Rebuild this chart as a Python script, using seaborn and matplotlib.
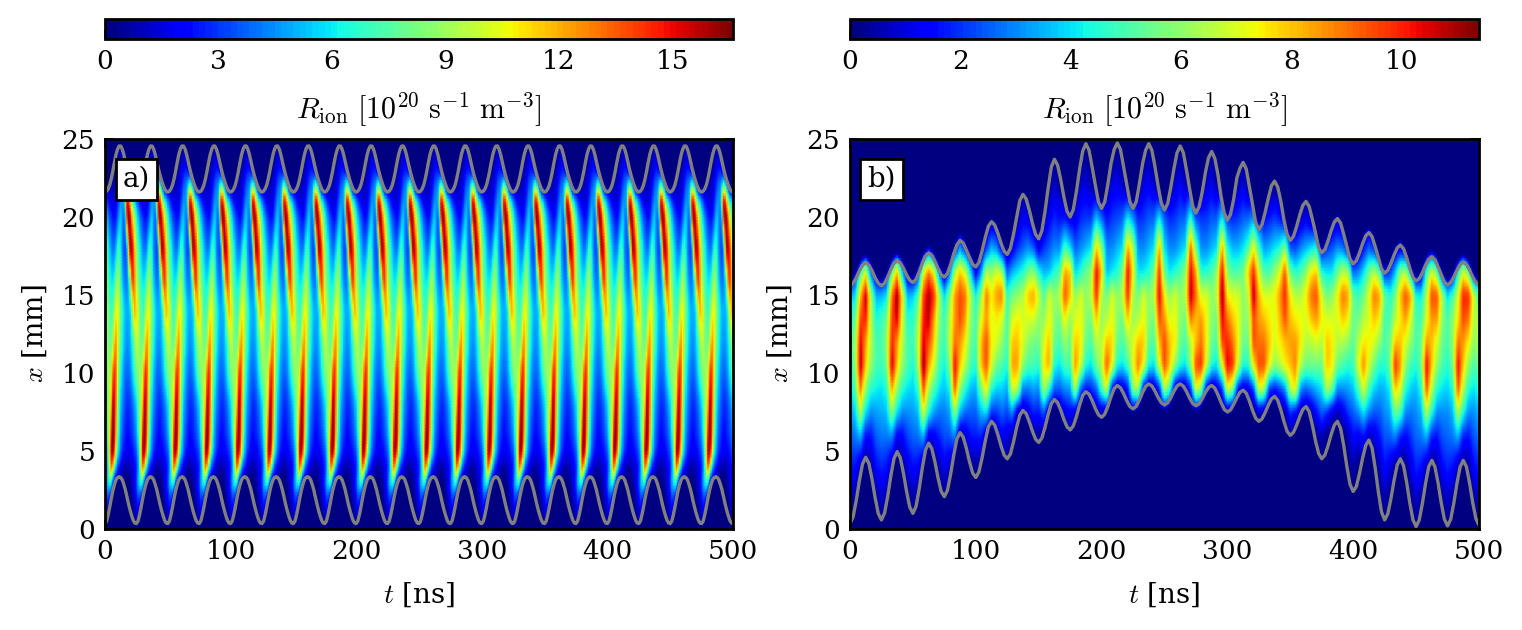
import numpy as np
import matplotlib
matplotlib.use("Agg")
import matplotlib.pyplot as plt
import seaborn as sns
from matplotlib.colors import BoundaryNorm
from matplotlib.cm import ScalarMappable

# ---------- panel a: the picture repeats every 25 ns for 20 periods ----------
n_periods_a = 20
a_x = [0, 1, 2, 3, 4, 5, 6, 8, 10, 12, 14, 16, 18, 20, 21, 22, 23, 24, 25]
# one period, samples every 1.25 ns
a_00 = [0]*20
a_01 = [1,1.5,.8,.2,0,0,0,0,0,0,0,0,0,0,0,0,0,0,.2,.6]
a_02 = [2,3,3,2,.8,.2,0,0,0,0,0,0,0,0,0,0,0,.3,.8,1.4]
a_03 = [3,5,6,7,6,3,1,.2,0,0,0,0,0,0,0,0,.3,.8,1.5,2.2]
a_04 = [2.5,4,6,10,13.5,12,8,5.5,3.5,2.5,1.8,1.2,.8,.6,.6,.7,.9,1.1,1.5,2]
a_05 = [3.5,5,7,11,15.5,16.5,14.5,10.5,7,5.5,4,3,2.5,2,1.8,1.8,1.9,2.1,2.5,3]
a_06 = [4.5,6,8,10.5,14.5,16.5,15.5,12,8.5,6,4.6,3.5,3,2.5,2.2,2.2,2.5,2.8,3.2,3.8]
a_08 = [5.5,7,8.5,9.5,11.5,15.5,15.5,13,9.5,7,5.5,4.5,3.8,3.2,2.8,2.8,3,3.5,4,4.8]
a_10 = [8,8.5,9,9,10,13,14.5,13.5,10.5,8,6.5,5.5,4.5,4,3.8,3.8,4.2,5,6,7]
a_12 = [9.5,9.5,8.5,8,8,9,11.5,12.5,11,9,7.5,6.5,5.5,4.8,4.5,4.6,5,6,7,8.5]
a_14 = [11.5,10,8.5,7.5,7,7.5,9,10.5,10.5,9.5,8,7,6,5.2,5,5,5.5,7.5,10,12]
a_16 = [9.5,8.5,7.5,6.5,6,5.8,6.5,8,9,8.5,7,5.5,4.5,4,4,5.5,8.5,13,14.5,12.5]
a_18 = [9,7.5,6.5,5.5,4.5,4,4,5,6.5,7,6,4.5,3.5,3,4.5,11,16,16,14.5,11.5]
a_20 = [7,5.5,4.5,3.5,3,2.5,2.2,2.5,3.5,4.8,5.5,4.5,3.5,5.5,14,16.5,16,13,10.5,8.5]
a_21 = [4.5,3.5,2.5,2,1.5,1.3,1.3,1.6,2.5,3.5,4.5,4.5,5,9.5,15.5,15.5,12,9,7,6]
a_22 = [0,0,.2,.8,.9,.9,1,1.2,1.8,2.5,3.5,4,4.5,6,8,7,5,2.5,.5,0]
a_23 = [0,0,0,0,0,.1,.4,.8,1,1.5,2,2.5,2.5,2,1,.2,0,0,0,0]
a_24 = [0,0,0,0,0,0,0,0,.3,.8,1,1,.6,0,0,0,0,0,0,0]
a_25 = [0]*20
a_rows = [a_00,a_01,a_02,a_03,a_04,a_05,a_06,a_08,a_10,a_12,a_14,a_16,a_18,
          a_20,a_21,a_22,a_23,a_24,a_25]
a_lower = [.35,.5,.9,1.4,1.95,2.45,2.85,3.15,3.3,3.35,3.3,3.15,2.85,2.5,2.05,1.6,1.2,.85,.55,.38]
a_upper = [21.6,21.65,21.8,22.05,22.45,22.95,23.5,24,24.35,24.55,24.55,24.35,24,23.55,23.1,22.7,22.35,22.05,21.8,21.65]

# ---------- panel b: one group of six vertical profiles per 25 ns ----------
b_x = [0, 2, 4, 6, 7.5, 9, 10.5, 12, 13.5, 15, 16.5, 18, 20, 22, 24, 25]
b_p00 = [[0,.6,1.5,2.5,3.2,4,4.6,5,4.8,3.5],[0,.3,1.6,2.8,3.8,5,5.8,6,5.2,4,1],[0,0,.5,3.5,6.5,9,11,10.5,9.5,8,5,.2],
         [0,0,0,1.5,4,6,8,8.5,10,10.8,7,.8],[0,0,.4,1.6,3,4.5,6,6.5,6.5,6.5,2.5,.1],[0,.2,1.5,2.5,3.2,4.2,5,5,4.4,3.5,.3]]
b_p01 = [[0,.8,1.8,2.8,3.4,4,4.8,5,4.8,3.5],[0,.3,1.6,2.8,3.6,4.5,5.6,6,5.5,4,1],[0,0,.4,3,6,8.5,10.8,10,9.5,9,5.5,.2],
         [0,0,0,1.2,4,6,8,8.5,10.5,11.2,8,.8],[0,0,.2,1.4,3,4.5,6,6.5,7,7.5,3.5,.1],[0,0,1,2.2,3,4,5,5,4.5,3.5,.3]]
b_p02 = [[0,.4,1.5,2.6,3.2,3.8,4.4,4.8,4.6,3.8],[0,.1,1.4,2.7,3.5,4.6,6,6.5,6,5,1.5],[0,0,.2,3.5,7,9.5,11.4,10.5,10,9.5,7,.5],
         [0,0,0,1,4.5,6.5,8.5,9.5,10.8,11,9,1.5],[0,0,.1,1.2,3.2,5,7,8,8.5,10,7.5,.3],[0,0,.4,1.8,2.8,4,5,5.5,6,6.5,3]]
b_p03 = [[0,0,1.2,2.3,2.8,3.6,4.2,4.8,4.8,4,.2],[0,0,.6,2.4,3.2,4.2,5.6,6.5,6.5,5.8,2.5],[0,0,0,3,6,9.5,10.5,9,8.5,8.5,6.5,1.2],
         [0,0,0,.2,3.5,6,8,8.5,9.5,9.5,8,3],[0,0,0,.8,2.6,4.5,6.5,7.5,8.5,9,7,1.6],[0,0,.1,1.6,2.5,3.5,5,5.5,6,6.5,4,.3]]
b_p04 = [[0,0,.3,1.7,2.5,3.4,4.5,5,5,4.4,1],[0,0,0,1.8,3.5,5.5,8,8,7,6,3,.2],[0,0,0,.6,4,7.5,9.5,9.5,8.5,9,6.5,2],
         [0,0,0,0,2,4.5,7,7.5,7,7.5,6,3.5,.2],[0,0,0,.6,2,3.8,5.5,7,7.5,8.5,7,3,.1],[0,0,0,1.2,2.6,3.8,5,6,7,9,6.5,1]]
b_p05 = [[0,0,0,1,2.2,3.4,4.5,5,5,4.8,2.5],[0,0,0,.3,3,7,8.5,8,7,5.5,3.5,1],[0,0,0,0,.6,6.5,8.5,8,7.5,6,4,2,.2],
         [0,0,0,0,.5,2.8,6,7,7,6.5,4.5,2.5,1.2],[0,0,0,0,1,2.8,5,6,7,8,5.5,3,1],[0,0,0,.2,1.8,3.2,5,5.5,7,8.5,6,2.5]]
b_p06 = [[0,0,0,.3,1.6,3,4.6,5.5,6,7,4.5,1],[0,0,0,0,2.4,6.5,7.5,7,6,5,3.5,2,.3],[0,0,0,0,.5,4.5,8.5,8,7.3,7,3.5,2.5,1.2],
         [0,0,0,0,0,2.5,4.5,5.5,6,6,4.5,3,1.8,.8],[0,0,0,0,.3,2.5,4,5,5.5,6.5,5,3,1.5,.2],[0,0,0,0,1,3,5,6,7.5,9.5,8.5,5,1.5]]
b_p07 = [[0,0,0,0,1.4,3.2,5,5.5,6,8,8,4,1],[0,0,0,0,.5,6.5,8.8,8,7,6,3.8,2.5,1,.1],[0,0,0,0,0,2.5,7,7.5,7.3,7,4.5,3,1.8,.8],
         [0,0,0,0,0,1.5,4.5,5.5,6,6,5.5,3.5,2,1,.2],[0,0,0,0,0,1.8,4,5,5.5,6.5,6,4,2,.5],[0,0,0,0,.2,2.5,5.5,6.5,8,10,10.5,8,3.5]]
b_p08 = [[0,0,0,0,.4,5,6.5,6.5,6,6.5,8,6,2.5],[0,0,0,0,0,7,9.5,8,6.5,5.5,3.5,3,1.5,.2],[0,0,0,0,0,1.2,7.5,7.8,7.3,7,4,3,2,1,.1],
         [0,0,0,0,0,.4,4.5,5.5,6,6,4.5,3.5,2.2,1.2,.3],[0,0,0,0,0,.8,4,5,5.5,6.5,5.5,4,2.5,.8],[0,0,0,0,0,1.5,5,6,8,10,10.5,8.5,4]]
b_p09 = [[0,0,0,0,0,6,7,7,6,6.5,7.5,6.5,3],[0,0,0,0,0,6.5,9,8,6.5,5.5,4,3,1.8,.1],[0,0,0,0,0,1,7.5,8,7.3,7,4,3,2,1,.1],
         [0,0,0,0,0,.2,4.5,5.5,6,6,4.5,3.5,2.4,1.3,.3],[0,0,0,0,0,.6,4,5,5.5,6.5,5.5,4,2.5,.8],[0,0,0,0,0,1.5,7,8,9.5,10.5,10,8.5,4]]
b_p10 = [[0,0,0,0,0,6.5,9.5,9.5,8.5,7.5,5.5,4,2.5],[0,0,0,0,0,5,8,8,7,6,4,3,1.8,.1],[0,0,0,0,0,.6,6,7.5,7.3,7,4.5,3,2,.8],
         [0,0,0,0,0,.2,4.5,5.5,6,6,5,3.5,2.4,1.3,.3],[0,0,0,0,0,.6,4,5,5.5,6.5,6,4,2.5,.6],[0,0,0,0,0,1.8,6,6.5,9,11,10.5,9.5,4.5,1]]
b_p11 = [[0,0,0,0,0,7,9.5,8,8,9,8.5,5.5,2.2],[0,0,0,0,0,6,10,9,8.5,7,4.5,3,2,.1],[0,0,0,0,0,.8,7,7.5,7.3,7,4.5,3,2,.8],
         [0,0,0,0,0,.3,4.5,5.5,6,6,5,3.5,2.4,1.2,.2],[0,0,0,0,0,.8,4,5,5.5,6.5,6,4,2.4,.4],[0,0,0,0,0,1.8,7,9.5,10.5,11.3,10.5,8.5,4,.8]]
b_p12 = [[0,0,0,0,0,7,10.5,10,9,7.5,6,4.5,2],[0,0,0,0,0,6,10,9,8,7,5,3.5,1.8],[0,0,0,0,0,1.5,7,7.5,7.3,7,5,3.5,2,.5],
         [0,0,0,0,0,.8,4.5,5.5,6,6,5.5,4,2.4,1],[0,0,0,0,0,1,4.5,5.5,6,6.5,8,5,2.5,.2],[0,0,0,0,0,2,7.5,9.5,9.5,11,10,7.5,3]]
b_p13 = [[0,0,0,0,.4,7,9.5,9,8.5,8.2,7,5,1.5],[0,0,0,0,.2,6.5,9.5,9,8,7,5,3.2,1.3],[0,0,0,0,0,2,7.5,8,7.5,7,5,3.5,1.6],
         [0,0,0,0,0,1.5,6,7,7,7.3,6,4,2,.2],[0,0,0,0,0,2,6.5,7.5,8,8.5,7,4.5,1.6],[0,0,0,0,.2,3,7.5,8,9.5,10,9.5,6,.6]]
b_p14 = [[0,0,0,.3,1.8,6.5,8,8.5,8,7.5,5.5,2.5],[0,0,0,0,1.2,7.5,8.8,8.5,7.5,6.5,4.5,2.2,.3],[0,0,0,0,.5,3,6.5,7.5,7.3,6.5,5,3,.6],
         [0,0,0,0,.2,2.5,5.5,6.5,7,7.5,6,3.5,1],[0,0,0,0,.5,3,5.5,6.5,8,9,7.5,4,.3],[0,0,0,.1,1.5,3.5,5.5,7,8.5,9.5,8,4.5]]
b_p15 = [[0,0,0,.6,2.5,4,5.5,6.5,7.5,7,4.5,1.2],[0,0,0,0,1.8,6.5,8,8,7,5.5,4,2,.1],[0,0,0,0,.8,5.5,7.5,7.5,7,6,4,2.4,.2],
         [0,0,0,0,.5,3,5.5,6.5,7,7.3,5.5,3,.5],[0,0,0,0,1,3,5,6.5,8,9,6.5,2.8,.1],[0,0,0,.4,2,3.2,4.5,6,7.5,8.5,6.5,1.5]]
b_p16 = [[0,0,.4,1.5,2.5,3.6,4.8,5.2,5.5,5.5,2.5],[0,0,0,1.2,3,5,7,6.5,5.5,4.8,3,.3],[0,0,0,1.6,4,7,8.8,7.5,6.5,5.5,4,1.5],
         [0,0,0,.6,3,5,7,7.5,7,7,5.5,2.5],[0,0,0,.9,2.4,3.8,5.5,7,8,9,6.5,1.8],[0,0,.5,1.6,2.5,3.4,4.5,6,7.5,8.5,5.5,.3]]
b_p17 = [[0,.5,1.5,2.4,3,3.5,4.5,5,5,5.5,1.5],[0,0,1,2.5,3.3,4.2,5.5,5.5,5,4.5,2],[0,0,.1,3,5.5,8,10,8,6.5,5.5,3.5,.5],
         [0,0,0,1.8,5,7,8.5,8,7.5,8,6,.9],[0,0,.1,1.4,3,4.5,6,7,8.5,9.5,6.5,.4],[0,.1,1,2,2.8,3.8,4.8,6,7,8.5,3.5]]
b_p18 = [[0,.8,1.8,2.6,3,3.5,4.5,5,5,4.5],[0,.2,1.6,2.8,3.5,4.5,5.5,5.5,5,4.2,.6],[0,0,.5,3.5,6.5,9.5,10.5,8.5,7,6.5,5,.1],
         [0,0,0,1.8,4.5,6.5,8,8,8.5,9.5,7,.6],[0,0,.3,1.6,3,4.5,6,7,8.5,9.5,5.5,.2],[0,.2,1.4,2.4,3,4,5,5.5,6,6.5,1]]
b_p19 = [[0,.8,1.8,2.6,3,3.8,4.5,5,5,4],[0,.2,1.6,2.8,3.5,4.5,5.5,6,6,5,.5],[0,0,.5,3.5,6.5,9.5,10.5,9,7.5,7,4.5,.1],
         [0,0,0,1.8,4.5,6.5,8,8.5,9.5,10,7,.6],[0,0,.3,1.6,3,4.5,6,7.5,9,10,5.5,.2],[0,.2,1.4,2.4,3,4,5,6,6.5,7,1]]
b_end = [[0,.8,1.8,2.8,3.5,4.5,5.5,6.5,6.5,5]]
b_groups = [b_p00,b_p01,b_p02,b_p03,b_p04,b_p05,b_p06,b_p07,b_p08,b_p09,b_p10,
            b_p11,b_p12,b_p13,b_p14,b_p15,b_p16,b_p17,b_p18,b_p19,b_end]

b_lower = [.36,.78,1.84,3.12,4.18,4.6,4.2,3.2,1.99,.98,.58,1.02,2.11,3.43,4.52,4.96,4.56,3.57,2.39,1.4,1.0,
 1.45,2.58,3.93,5.05,5.5,5.16,4.3,3.27,2.41,2.07,2.48,3.51,4.74,5.77,6.18,5.89,5.17,4.31,3.59,3.3,
 3.66,4.56,5.64,6.54,6.9,6.66,6.06,5.34,4.74,4.5,4.81,5.59,6.52,7.29,7.6,7.4,6.88,6.27,5.76,5.55,
 5.83,6.51,7.34,8.03,8.3,8.1,7.62,7.03,6.55,6.35,6.6,7.21,7.94,8.56,8.8,8.64,8.23,7.73,7.32,7.16,
 7.36,7.87,8.49,9.0,9.2,9.05,8.68,8.22,7.85,7.7,7.86,8.26,8.74,9.14,9.3,9.17,8.83,8.42,8.09,7.95,
 8.09,8.42,8.83,9.17,9.3,9.16,8.81,8.39,8.04,7.9,8.03,8.36,8.75,9.07,9.2,9.03,8.6,8.1,7.67,7.5,
 7.64,7.99,8.41,8.76,8.9,8.7,8.2,7.6,7.1,6.9,7.06,7.46,7.94,8.34,8.5,8.25,7.63,6.88,6.25,6.0,
 6.19,6.65,7.2,7.67,7.85,7.52,6.68,5.67,4.84,4.5,4.74,5.34,6.06,6.66,6.9,6.45,5.33,3.98,2.85,2.4,
 2.73,3.56,4.55,5.37,5.7,5.19,3.91,2.37,1.09,.58,.97,1.95,3.13,4.11,4.5,4.07,2.98,1.67,.59,.15,
 .58,1.64,2.91,3.98,4.4,3.98,2.93,1.67,.62,.2,.62,1.67,2.93,3.98,4.4,3.99,2.95,1.7,.67,.25]
b_upper = [15.6,15.75,16.11,16.56,16.92,17.07,16.92,16.56,16.11,15.75,15.6,15.76,16.16,16.64,17.04,17.2,17.06,16.71,16.29,15.94,15.8,
 16.0,16.47,17.04,17.51,17.7,17.55,17.16,16.69,16.3,16.15,16.39,16.96,17.65,18.22,18.5,18.33,17.88,17.41,16.97,16.8,
 17.09,17.84,18.68,19.41,19.7,19.49,18.97,18.33,17.81,17.6,17.99,18.9,20.0,21.06,21.45,21.16,20.45,19.6,18.89,18.6,
 19.11,20.35,21.85,23.19,23.7,23.33,22.4,21.3,20.37,20,20.47,21.65,23.06,24.23,24.7,24.28,23.2,22.05,20.97,20.55,
 20.97,22.11,23.44,24.33,24.75,24.33,23.2,22.1,20.97,20.55,20.97,22.1,23.39,24.28,24.7,24.27,23.2,21.95,20.88,20.45,
 20.86,21.9,23.1,24.13,24.55,24.12,23.0,21.8,20.68,20.25,20.65,21.6,22.85,23.8,24.2,23.76,22.7,21.3,20.24,19.8,
 20.17,21.15,22.5,23.13,23.5,23.07,21.95,20.8,19.63,19.2,19.51,20.3,21.2,22.0,22.3,21.92,21.0,19.8,18.88,18.5,
 18.75,19.38,20.13,20.75,21,20.67,19.88,19.0,18.03,17.7,17.92,18.47,19.13,19.68,19.9,19.61,18.88,18.1,17.29,17,
 17.2,17.7,18.3,18.8,19,18.74,18.1,17.4,16.66,16.4,16.58,17.03,17.57,18.02,18.2,17.97,17.4,16.7,16.13,15.9,
 16.05,16.44,16.91,17.3,17.45,17.27,16.79,16.3,15.83,15.65,15.8,16.16,16.59,16.95,17.1,16.95,16.6,16.15,15.8,15.65]

vmax_a, vmax_b = 16.6, 11.4
t_max = 500
xticks = [0, 100, 200, 300, 400, 500]
yticks = [0, 5, 10, 15, 20, 25]
cb_ticks_a = [0, 3, 6, 9, 12, 15]
cb_ticks_b = [0, 2, 4, 6, 8, 10]
cb_label = r'$R_{\rm ion}\ [10^{20}\ {\rm s}^{-1}\ {\rm m}^{-3}]$'
panel_names = ['a)', 'b)']

# ---------- assemble ----------
a_field = np.hstack([np.tile(np.array(a_rows, float), (1, n_periods_a)), np.array(a_rows, float)[:, :1]])
a_t = np.linspace(0, t_max, a_field.shape[1])
a_low = np.r_[np.tile(a_lower, n_periods_a), a_lower[0]]
a_up = np.r_[np.tile(a_upper, n_periods_a), a_upper[0]]

b_cols = [c + [0]*(len(b_x)-len(c)) for g in b_groups for c in g]
b_field = np.array(b_cols, float).T
b_t = np.linspace(0, t_max, b_field.shape[1])
b_line_t = np.linspace(0, t_max, len(b_lower))


def display_grid(t, x, field, lt, low, up, margin=0.6):
    """Put the read samples on a finer display mesh, shaded to the two plasma edges."""
    ft = np.linspace(0, t_max, 401)
    fx = np.linspace(0, 25, 126)
    by_t = np.array([np.interp(ft, t, row) for row in field])
    by_x = np.array([np.interp(fx, x, by_t[:, j]) for j in range(len(ft))]).T
    kernel = np.hanning(9)
    kernel /= kernel.sum()
    soft = np.array([np.convolve(by_x[:, j], kernel, mode='same') for j in range(len(ft))]).T
    T, X = np.meshgrid(ft, fx)
    lo = np.interp(ft, lt, low)
    hi = np.interp(ft, lt, up)
    env = np.clip((X - lo + margin) / margin, 0, 1) * np.clip((hi + margin - X) / margin, 0, 1)
    return ft, fx, soft * env


sns.set_style('ticks')
plt.rcParams.update({
    'font.family': ['DejaVu Serif'], 'mathtext.fontset': 'cm', 'font.size': 9.5,
    'axes.linewidth': 1.0, 'axes.edgecolor': 'black', 'text.color': 'black',
    'axes.labelcolor': 'black', 'xtick.color': 'black', 'ytick.color': 'black',
    'xtick.direction': 'in', 'ytick.direction': 'in', 'xtick.top': True, 'ytick.right': True,
    'xtick.major.size': 3.2, 'ytick.major.size': 3.2, 'xtick.major.width': .6, 'ytick.major.width': .6,
    'xtick.labelsize': 9.5, 'ytick.labelsize': 9.5, 'axes.labelsize': 10,
})

W, H = 1522, 630
fig = plt.figure(figsize=(W/200, H/200), dpi=200)


def box(x0, y0, x1, y1):
    return [x0/W, 1-y1/H, (x1-x0)/W, (y1-y0)/H]


panels = [
    (box(105, 139, 733, 529), box(105, 19, 733, 39), a_t, np.array(a_x, float), a_field, vmax_a,
     a_t, a_low, a_up, cb_ticks_a, panel_names[0]),
    (box(850, 139, 1479, 529), box(850, 19, 1479, 39), b_t, np.array(b_x, float), b_field, vmax_b,
     b_line_t, np.array(b_lower), np.array(b_upper), cb_ticks_b, panel_names[1]),
]
for rect, crect, t, x, field, vmax, lt, low, up, cticks, name in panels:
    ax = fig.add_axes(rect)
    ft, fx, shown = display_grid(t, x, field, lt, low, up)
    ax.pcolormesh(ft, fx, shown, cmap='jet', vmin=0, vmax=vmax, shading='gouraud', rasterized=True)
    sns.lineplot(x=lt, y=low, ax=ax, color='gray', lw=1.2, estimator=None, errorbar=None)
    sns.lineplot(x=lt, y=up, ax=ax, color='gray', lw=1.2, estimator=None, errorbar=None)
    ax.set_xlim(0, t_max); ax.set_ylim(0, 25)
    ax.set_xticks(xticks); ax.set_yticks(yticks)
    ax.set_xlabel(r'$t$ [ns]', labelpad=6)
    ax.set_ylabel(r'$x$ [mm]', labelpad=4.5)
    ax.text(.05, .897, name, transform=ax.transAxes, ha='center', va='center', fontsize=10,
            bbox=dict(boxstyle='square,pad=0.25', fc='white', ec='black', lw=1.0), zorder=5)

    cax = fig.add_axes(crect)
    norm = BoundaryNorm(np.linspace(0, vmax, 101), 256)
    cb = fig.colorbar(ScalarMappable(norm=norm, cmap='jet'), cax=cax, orientation='horizontal',
                      spacing='proportional', ticks=cticks)
    cb.ax.tick_params(axis='x', direction='in', length=3.2, width=.6, top=False, bottom=True, labelsize=9.5)
    cb.ax.minorticks_off()
    cb.outline.set_linewidth(1.0)
    cb.set_label(cb_label, fontsize=10.8, labelpad=6)

fig.savefig('out.png', dpi=200)
